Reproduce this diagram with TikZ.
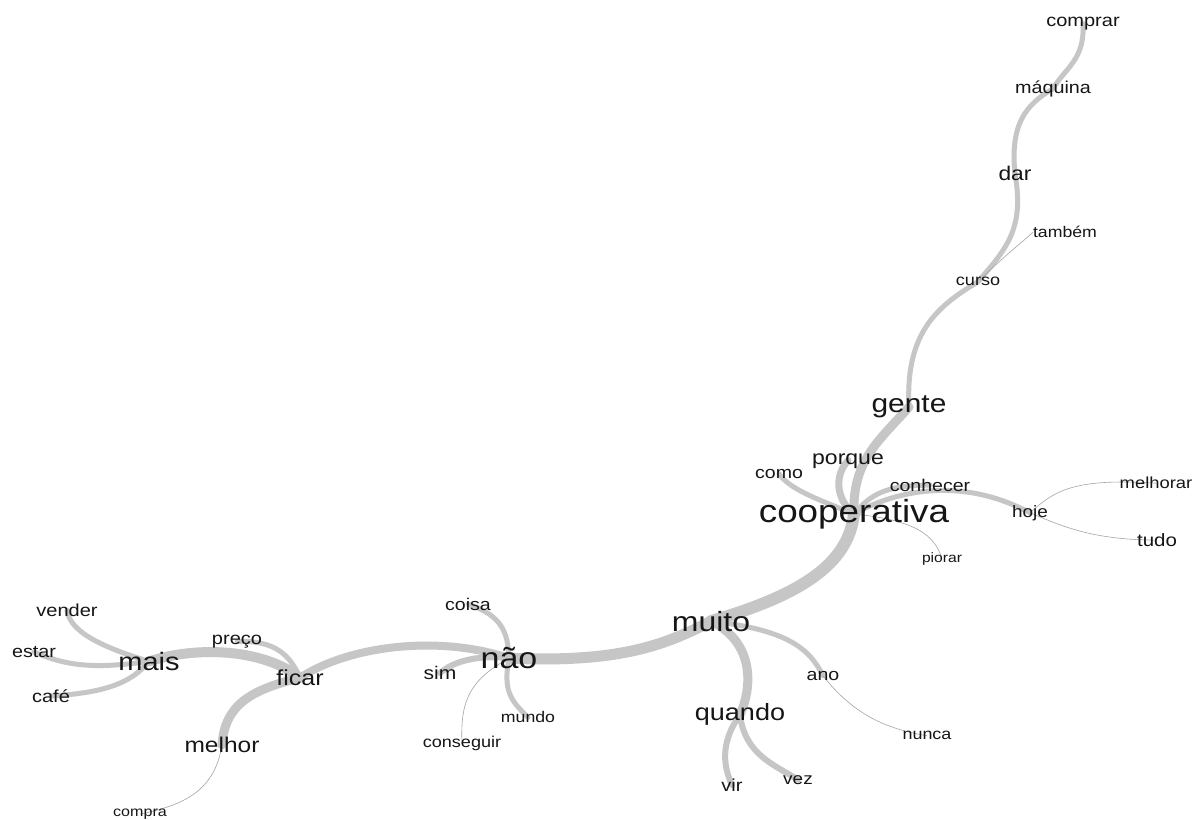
\documentclass[tikz,border=0pt]{standalone}
\usepackage{fontspec}
\setmainfont[FakeStretch=1.15]{Liberation Sans}
\definecolor{edgec}{RGB}{198,198,198}
\definecolor{thinc}{RGB}{165,165,165}
\definecolor{txt}{RGB}{22,22,22}
\pgfdeclarelayer{bg}
\pgfsetlayers{bg,main}
\begin{document}
\begin{tikzpicture}[x=1pt,y=-1pt,
  lbl/.style={font=\fontsize{#1}{#1}\selectfont, anchor=mid, inner sep=0pt, text=txt, yshift=-0.27*#1pt},
  edg/.style={line width=#1, draw=edgec, line cap=round},
  thinedge/.style={line width=0.6pt, draw=thinc}]
\useasboundingbox (0,0) rectangle (1201,819);
\path
 (1083,19) node[lbl=17.4] (comprar) {comprar}
 (1053,86) node[lbl=17.2] (maquina) {máquina}
 (1015,173) node[lbl=19.8] (dar) {dar}
 (1065,231) node[lbl=15.4] (tambem) {também}
 (978,279) node[lbl=15.7] (curso) {curso}
 (909,403) node[lbl=26] (gente) {gente}
 (848,456) node[lbl=20] (porque) {porque}
 (779,471) node[lbl=17] (como) {como}
 (930,484) node[lbl=17] (conhecer) {conhecer}
 (854,511) node[lbl=32] (coop) {cooperativa}
 (1030,510) node[lbl=16.5] (hoje) {hoje}
 (1156,482) node[lbl=16] (melhorar) {melhorar}
 (1157,539) node[lbl=17.8] (tudo) {tudo}
 (942,556) node[lbl=13.6] (piorar) {piorar}
 (711,621) node[lbl=27.8] (muito) {muito}
 (823,673) node[lbl=17] (ano) {ano}
 (927,733) node[lbl=15.6] (nunca) {nunca}
 (740,712) node[lbl=23.5] (quando) {quando}
 (732,784) node[lbl=17.4] (vir) {vir}
 (798,777) node[lbl=16.5] (vez) {vez}
 (509,658) node[lbl=29.6] (nao) {não}
 (468,603) node[lbl=17] (coisa) {coisa}
 (440,672) node[lbl=18.3] (sim) {sim}
 (528,716) node[lbl=15.4] (mundo) {mundo}
 (462,741) node[lbl=15.7] (conseguir) {conseguir}
 (300,677) node[lbl=21.7] (ficar) {ficar}
 (237,637) node[lbl=17.4] (preco) {preço}
 (149,661) node[lbl=25.2] (mais) {mais}
 (67,609) node[lbl=17.4] (vender) {vender}
 (34,650) node[lbl=17.2] (estar) {estar}
 (51,695) node[lbl=17.4] (cafe) {café}
 (222,744) node[lbl=21.3] (melhor) {melhor}
 (140,810) node[lbl=14] (compra) {compra};
\begin{pgfonlayer}{bg}
\fill[white] (0,0) rectangle (1201,819);
% upper branch
\draw[edg=5] (comprar.center) .. controls (1085,60) and (1065,68) .. (maquina.center);
\draw[edg=5] (maquina.center) .. controls (1025,105) and (1010,125) .. (dar.center);
\draw[edg=5] (dar.center) .. controls (1025,230) and (1005,250) .. (curso.center);
\draw[thinedge] (tambem.west) .. controls (1025,240) and (1005,255) .. (curso.center);
\draw[edg=5] (curso.center) .. controls (940,305) and (905,330) .. (gente.center);
\draw[edg=9] (gente.center) .. controls (880,440) and (852,460) .. (coop.center);
\draw[edg=7] (porque.center) .. controls (834,475) and (836,500) .. (coop.center);
\draw[edg=5] (como.center) .. controls (790,490) and (820,500) .. (coop.center);
\draw[edg=5] (coop.center) .. controls (870,495) and (885,485) .. (conhecer.center);
\draw[edg=5] (coop.center) .. controls (900,488) and (965,478) .. (hoje.center);
\draw[thinedge] (coop.center) .. controls (915,520) and (935,535) .. (piorar.center);
\draw[thinedge] (hoje.center) .. controls (1055,490) and (1075,478) .. (melhorar.center);
\draw[thinedge] (hoje.center) .. controls (1060,525) and (1090,540) .. (tudo.center);
\draw[edg=12] (coop.center) .. controls (848,565) and (800,595) .. (muito.center);
% muito
\draw[edg=9] (muito.center) .. controls (750,640) and (755,680) .. (quando.center);
\draw[edg=6] (quando.center) .. controls (718,745) and (725,770) .. (vir.center);
\draw[edg=6] (quando.center) .. controls (745,755) and (775,765) .. (vez.center);
\draw[edg=5] (muito.center) .. controls (790,630) and (810,650) .. (ano.center);
\draw[thinedge] (ano.center) .. controls (850,710) and (880,728) .. (nunca.center);
\draw[edg=11] (muito.center) .. controls (665,645) and (620,663) .. (nao.center);
% nao
\draw[edg=5] (nao.center) .. controls (508,630) and (500,615) .. (coisa.center);
\draw[edg=5] (nao.center) .. controls (503,690) and (510,700) .. (mundo.center);
\draw[edg=6] (nao.center) .. controls (480,655) and (455,660) .. (sim.center);
\draw[thinedge] (nao.center) .. controls (470,680) and (460,700) .. (conseguir.center);
\draw[edg=8] (nao.center) .. controls (440,635) and (350,645) .. (ficar.center);
% ficar
\draw[edg=10] (ficar.center) .. controls (265,650) and (200,645) .. (mais.center);
\draw[edg=5] (preco.center) .. controls (275,640) and (290,655) .. (ficar.center);
\draw[edg=9] (ficar.center) .. controls (250,690) and (225,705) .. (melhor.center);
\draw[thinedge] (melhor.center) .. controls (215,790) and (185,805) .. (compra.center);
% mais
\draw[edg=5] (mais.center) .. controls (95,645) and (70,630) .. (vender.center);
\draw[edg=5] (mais.center) .. controls (100,668) and (70,668) .. (estar.center);
\draw[edg=5] (mais.center) .. controls (130,685) and (100,693) .. (cafe.center);
\end{pgfonlayer}
\end{tikzpicture}
\end{document}
